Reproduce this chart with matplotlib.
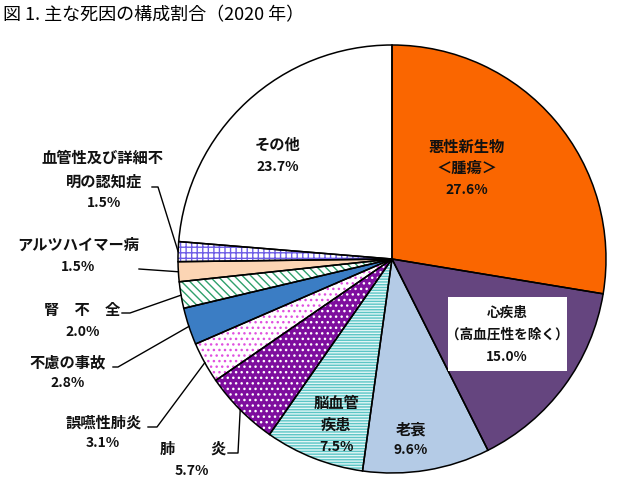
import numpy as np
import matplotlib
matplotlib.use("Agg")
import matplotlib.pyplot as plt
from matplotlib.patches import Rectangle

plt.rcParams['font.family'] = ['Noto Sans CJK JP', 'DejaVu Sans']
plt.rcParams['hatch.linewidth'] = 1.0

# ---- data ----
categories = ["悪性新生物＜腫瘍＞", "心疾患（高血圧性を除く）", "老衰", "脳血管疾患", "肺炎",
              "誤嚥性肺炎", "不慮の事故", "腎不全", "アルツハイマー病",
              "血管性及び詳細不明の認知症", "その他"]
values = [27.6, 15.0, 9.6, 7.5, 5.7, 3.1, 2.8, 2.0, 1.5, 1.5, 23.7]
face_colors = ["#FA6600", "#65457F", "#B4CBE6", "#E2F6F6", "#7E0E9E",
               "#FFFFFF", "#3B7DC4", "#FFFFFF", "#FCD5B4", "#FFFFFF", "#FFFFFF"]
hatches = [None, None, None, "------", "...", "...", None, "\\\\\\\\", None, "+++", None]
hatch_colors = [None, None, None, "#5CC6C6", "#FFFFFF", "#E050E0", None, "#2FA06C", None, "#6E5EE6", None]

W, H = 627, 493
fig = plt.figure(figsize=(W / 100, H / 100), dpi=100)
ax = fig.add_axes([0, 0, 1, 1])
ax.set_xlim(0, W)
ax.set_ylim(0, H)
ax.set_aspect('equal')
ax.axis('off')

cx, cy, R = 392, H - 259, 214

def py(y):
    return H - y

# fill layer (with hatches)
wedges, _ = ax.pie(values, colors=face_colors, startangle=90, counterclock=False,
                   center=(cx, cy), radius=R, frame=True,
                   wedgeprops=dict(linewidth=0))
for w, h, hc, fc in zip(wedges, hatches, hatch_colors, face_colors):
    if h:
        w.set_hatch(h)
        w.set_edgecolor(hc)
        w.set_linewidth(0)
# outline layer
outl, _ = ax.pie(values, colors=['none'] * len(values), startangle=90, counterclock=False,
                 center=(cx, cy), radius=R, frame=True,
                 wedgeprops=dict(linewidth=1.1, edgecolor='black', facecolor='none'))
ax.set_xlim(0, W)
ax.set_ylim(0, H)
ax.axis('off')

bold = dict(fontweight='bold', color='#111111', ha='center', va='center')
FS = 11
FP = 10

# title
ax.text(3, py(15), "図 1. 主な死因の構成割合（2020 年）", fontsize=13, ha='left', va='center',
        color='black')

# labels inside
ax.text(278, py(145), "その他", fontsize=FS, **bold)
ax.text(278, py(167), "23.7%", fontsize=FP, **bold)
ax.text(467, py(147), "悪性新生物", fontsize=FS, **bold)
ax.text(467, py(168), "＜腫瘍＞", fontsize=FS, **bold)
ax.text(467, py(190), "27.6%", fontsize=FP, **bold)

ax.add_patch(Rectangle((448, py(371)), 119, 74, facecolor='white', edgecolor='none', zorder=3))
ax.text(507, py(313), "心疾患", fontsize=9.8, zorder=4, **bold)
ax.text(507, py(335), "（高血圧性を除く）", fontsize=9.8, zorder=4, **bold)
ax.text(507, py(357), "15.0%", fontsize=9.8, zorder=4, **bold)

ax.text(411, py(429), "老衰", fontsize=FS, **bold)
ax.text(411, py(450), "9.6%", fontsize=FP, **bold)
ax.text(336, py(403), "脳血管", fontsize=FS, **bold)
ax.text(336, py(425), "疾患", fontsize=FS, **bold)
ax.text(337, py(447), "7.5%", fontsize=FP, **bold)

# outside labels
ax.text(167, py(449), "肺", fontsize=FS, **bold)
ax.text(218, py(449), "炎", fontsize=FS, **bold)
ax.text(192, py(471), "5.7%", fontsize=FP, **bold)
ax.text(104, py(423), "誤嚥性肺炎", fontsize=FS, **bold)
ax.text(103, py(443), "3.1%", fontsize=FP, **bold)
ax.text(68, py(362), "不慮の事故", fontsize=FS, **bold)
ax.text(68, py(383), "2.8%", fontsize=FP, **bold)
ax.text(82, py(310), "腎　不　全", fontsize=FS, **bold)
ax.text(83, py(332), "2.0%", fontsize=FP, **bold)
ax.text(78, py(245), "アルツハイマー病", fontsize=FS, **bold)
ax.text(78, py(267), "1.5%", fontsize=FP, **bold)
ax.text(102, py(158), "血管性及び詳細不", fontsize=FS, **bold)
ax.text(104, py(182), "明の認知症", fontsize=FS, **bold)
ax.text(104, py(203), "1.5%", fontsize=FP, **bold)

# leader lines: start points near labels, end at wedge mid-angle on the rim
def rim(i):
    w = outl[i]
    th = np.deg2rad((w.theta1 + w.theta2) / 2)
    return cx + R * np.cos(th), cy + R * np.sin(th)

leaders = {4: [(228, 453), (238, 453)],
           5: [(148, 427), (157, 427)],
           6: [(113, 367), (118, 367)],
           7: [(122, 313), (130, 313)],
           8: [(139, 269)],
           9: [(152, 187), (158, 187)]}
for i, pts in leaders.items():
    xs = [p[0] for p in pts]
    ys = [py(p[1]) for p in pts]
    ex, ey = rim(i)
    xs.append(ex)
    ys.append(ey)
    ax.plot(xs, ys, color='black', lw=1.0, zorder=5)

fig.savefig("out.png", dpi=100)
